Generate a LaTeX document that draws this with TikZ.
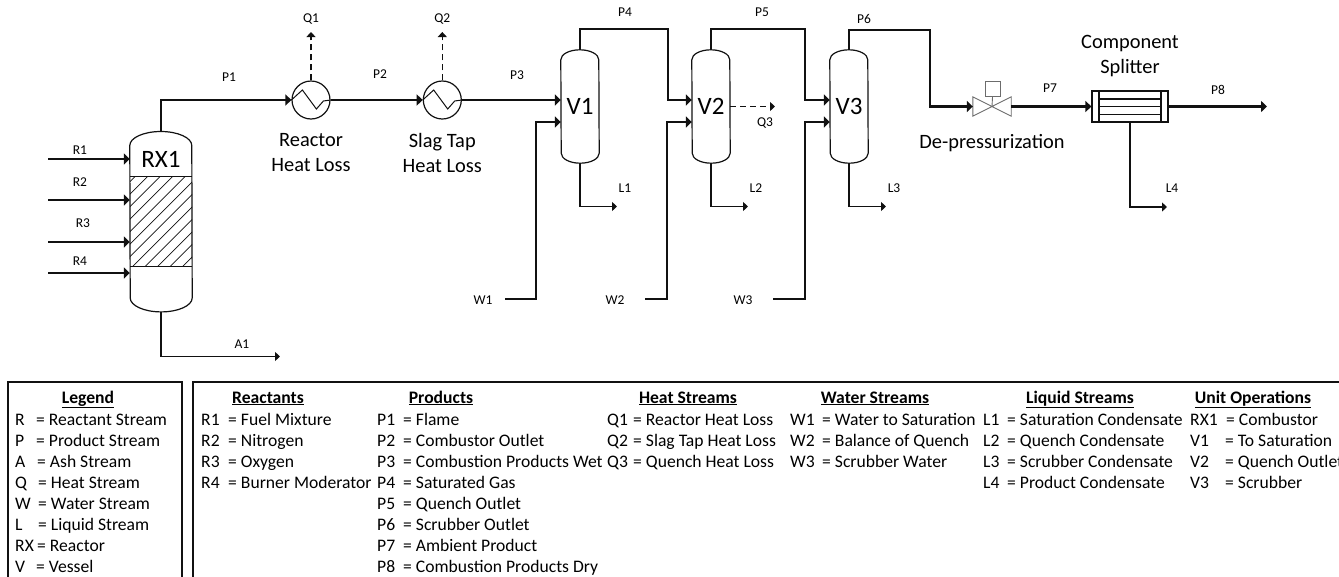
\documentclass[tikz,border=0pt]{standalone}
\usepackage{fontspec}
\setmainfont{Carlito}
\usetikzlibrary{arrows.meta,calc}
\definecolor{ink}{HTML}{111111}
\tikzset{
  thickline/.style={draw=ink,line width=2.5pt,-{Triangle[length=6pt,width=11pt]}},
  thinline/.style={draw=ink,line width=1.1pt,-{Triangle[length=5pt,width=9pt]}},
  dashline/.style={draw=ink,line width=1.1pt,dash pattern=on 6pt off 4pt,-{Triangle[length=5pt,width=9pt]}},
  outline/.style={draw=ink,line width=1.2pt},
  unitbox/.style={rectangle,inner sep=0pt,font=\fontsize{25}{25}\selectfont},
  hx/.style={circle,draw=ink,line width=1.2pt,minimum size=38pt,inner sep=0pt},
  lab/.style={inner sep=0pt,font=\fontsize{13.5}{14}\selectfont},
  biglab/.style={inner sep=0pt,align=center,font=\fontsize{20.4}{25}\selectfont},
  lt/.style={inner sep=0pt,anchor=base west,font=\fontsize{17.6}{18}\selectfont},
  lh/.style={inner sep=0pt,anchor=base,font=\fontsize{17.6}{18}\selectfont\bfseries},
  legbox/.style={draw=ink,line width=2.5pt},
  valveline/.style={draw=gray!85!black,line width=.9pt},
}
\newcounter{tn}
\newcommand{\lrow}[5]{\stepcounter{tn}\node[lt] (k\thetn) at (#1,#3) {#4};\node[lt] (v\thetn) at (#2,#3) {#5};}
\newcommand{\lhead}[2]{\stepcounter{tn}\node[lh] (h\thetn) at (#1,403) {\underline{#2}};}
\newcommand{\vesselpath}[2]{% node name, cap height
  \draw[outline] ($(#1.north west)+(0,#2)$) arc[x radius=0.5*\vw,y radius=#2,start angle=180,end angle=360]
    -- ($(#1.south east)+(0,-#2)$) arc[x radius=0.5*\vw,y radius=#2,start angle=0,end angle=180] -- cycle;}
\newcommand{\hxzig}[1]{\draw[outline,line width=1pt] (#1.west) -- ++(11,-10) -- ++(14,19) -- ++(7,-8) -- (#1.east);}
\begin{document}
\begin{tikzpicture}[x=1pt,y=-1pt]
\useasboundingbox (0,0) rectangle (1339,576);
\clip (0,0) rectangle (1339,576);

% Reactor
\node[unitbox,minimum width=62pt,minimum height=180pt] (RX1) at (161,221.7) {};
\node[inner sep=0pt,font=\fontsize{25}{25}\selectfont] (RX1t) at (161,159) {RX1};
\def\vw{62}
\vesselpath{RX1}{14}
\begin{scope}
  \clip (130,176.7) rectangle (192,266.7);
  \foreach \k in {0,...,12} \draw[draw=ink,line width=.7pt] (39.7+12.5*\k,272) -- ++(110,-110);
\end{scope}
\coordinate (bedTL) at (130,176.7); \coordinate (bedTR) at (192,176.7);
\coordinate (bedBL) at (130,266.7); \coordinate (bedBR) at (192,266.7);
\draw[outline] (bedTL) -- (bedTR) (bedBL) -- (bedBR);

% Feeds
\coordinate (R1s) at (48,159); \coordinate (R2s) at (48,200);
\coordinate (R3s) at (48,242); \coordinate (R4s) at (48,273);
\foreach \r in {R1s,R2s,R3s,R4s} \draw[thickline] (\r) -- (\r -| RX1.west);
\node[lab] (R1) at (80,150) {R1};
\node[lab] (R2) at (80,182) {R2};
\node[lab] (R3) at (83,223) {R3};
\node[lab] (R4) at (80,261) {R4};

% Ash
\coordinate (A1e) at (280,356.5);
\draw[thinline] (RX1.south) |- (A1e);
\node[lab] (A1) at (242,344) {A1};

% Heat exchangers
\node[hx] (HX1) at (311,100) {};
\node[hx] (HX2) at (442.3,100) {};
\hxzig{HX1}\hxzig{HX2}
\draw[thickline] (RX1.north) |- (HX1.west);
\draw[thickline] (HX1.east) -- (HX2.west);
\coordinate (Q1e) at (311,32); \coordinate (Q2e) at (442.3,32);
\draw[dashline] (HX1.north) -- (Q1e);
\draw[dashline] (HX2.north) -- (Q2e);
\node[lab] (Q1) at (311,19) {Q1};
\node[lab] (Q2) at (442.3,19) {Q2};
\node[lab] (P1) at (229,77) {P1};
\node[lab] (P2) at (380,74) {P2};
\node[lab] (P3) at (517,75) {P3};
\node[biglab] (HL1) at (311,153) {Reactor\\Heat Loss};
\node[biglab] (HL2) at (442.3,153) {Slag Tap\\Heat Loss};

% Vessels
\def\vw{38}
\node[unitbox,minimum width=38pt,minimum height=113pt] (V1) at (580,106.5) {V1};
\node[unitbox,minimum width=38pt,minimum height=113pt] (V2) at (711,106.5) {V2};
\node[unitbox,minimum width=38pt,minimum height=113pt] (V3) at (849,106.5) {V3};
\vesselpath{V1}{10}\vesselpath{V2}{10}\vesselpath{V3}{10}

\coordinate (V1a) at (V1.west |- 0,100); \coordinate (V1b) at (V1.west |- 0,122);
\coordinate (V2a) at (V2.west |- 0,100); \coordinate (V2b) at (V2.west |- 0,122);
\coordinate (V3a) at (V3.west |- 0,100); \coordinate (V3b) at (V3.west |- 0,122);
\draw[thickline] (HX2.east) -- (V1a);

% Overheads
\coordinate (P4k) at (668,29); \coordinate (P5k) at (805,29); \coordinate (P6k) at (930,30);
\draw[thickline] (V1.north) |- (P4k) |- (V2a);
\draw[thickline] (V2.north) |- (P5k) |- (V3a);

% Water feeds
\coordinate (W1s) at (505,299); \coordinate (W2s) at (645,299); \coordinate (W3s) at (773,299);
\coordinate (W1k) at (536,299); \coordinate (W2k) at (667,299); \coordinate (W3k) at (805,299);
\draw[thickline] (W1s) -- (W1k) |- (V1b);
\draw[thickline] (W2s) -- (W2k) |- (V2b);
\draw[thickline] (W3s) -- (W3k) |- (V3b);
\node[lab] (W1) at (483,300) {W1};
\node[lab] (W2) at (615,300) {W2};
\node[lab] (W3) at (743,300) {W3};

% Liquid draws
\coordinate (L1e) at (617,206.5); \coordinate (L2e) at (748,206.5); \coordinate (L3e) at (886,206.5);
\draw[thinline] (V1.south) |- (L1e);
\draw[thinline] (V2.south) |- (L2e);
\draw[thinline] (V3.south) |- (L3e);
\node[lab] (L1) at (625,188) {L1};
\node[lab] (L2) at (756,188) {L2};
\node[lab] (L3) at (894,188) {L3};

% Q3
\coordinate (Q3e) at (775,106.5);
\draw[dashline] (V2.east) -- (Q3e);
\node[lab] (Q3) at (765,123) {Q3};
\node[lab] (P4) at (625,12) {P4};
\node[lab] (P5) at (762,12) {P5};
\node[lab] (P6) at (864,19) {P6};

% Valve
\node[inner sep=0pt,minimum width=38pt,minimum height=19pt] (VLV) at (992,106.5) {};
\draw[valveline] (VLV.north west) -- (VLV.south east) -- (VLV.north east) -- (VLV.south west) -- cycle;
\node[draw=gray!85!black,line width=.9pt,inner sep=0pt,minimum width=15pt,minimum height=15.5pt] (ACT) at (992.5,89) {};
\draw[valveline] (ACT.south) -- (VLV.center);
\draw[thickline] (V3.north) |- (P6k) |- (VLV.west);
\node[biglab] (DP) at (992,143) {De-pressurization};

% Splitter
\node[draw=ink,line width=1.2pt,inner sep=0pt,minimum width=76pt,minimum height=31pt] (CS) at (1130,106.5) {};
\draw[outline] (1099,91) -- (1099,122) (1161,91) -- (1161,122)
  (1099,99) -- (1161,99) (1099,106.5) -- (1161,106.5) (1099,114.4) -- (1161,114.4);
\draw[thickline] (VLV.east) -- (CS.west);
\coordinate (P8e) at (1267,106.5); \coordinate (L4e) at (1167,207);
\draw[thickline] (CS.east) -- (P8e);
\draw[thinline] (CS.south) |- (L4e);
\node[lab] (P7) at (1050,88) {P7};
\node[lab] (P8) at (1218,90) {P8};
\node[lab] (L4) at (1172,188) {L4};
\node[biglab] (CST) at (1130,56) {Component\\Splitter};

% Legend boxes
\coordinate (b1a) at (8,382); \coordinate (b1b) at (182,600);
\coordinate (b2a) at (193,382); \coordinate (b2b) at (1360,600);
\draw[legbox] (b1a) rectangle (b1b);
\draw[legbox] (b2a) rectangle (b2b);

\lhead{88}{Legend}
\lrow{15}{36}{425}{R}{= Reactant Stream}
\lrow{15}{36}{446}{P}{= Product Stream}
\lrow{15}{37}{467}{A}{= Ash Stream}
\lrow{15}{38}{488}{Q}{= Heat Stream}
\lrow{15}{38}{509}{W}{= Water Stream}
\lrow{15}{38}{530}{L}{= Liquid Stream}
\lrow{15}{37}{551}{RX}{= Reactor}
\lrow{15}{36}{572}{V}{= Vessel}

\lhead{268}{Reactants}
\lrow{201}{228}{425}{R1}{= Fuel Mixture}
\lrow{201}{228}{446}{R2}{= Nitrogen}
\lrow{201}{228}{467}{R3}{= Oxygen}
\lrow{201}{228}{488}{R4}{= Burner Moderator}

\lhead{441}{Products}
\lrow{377}{403}{425}{P1}{= Flame}
\lrow{377}{403}{446}{P2}{= Combustor Outlet}
\lrow{377}{403}{467}{P3}{= Combustion Products Wet}
\lrow{377}{403}{488}{P4}{= Saturated Gas}
\lrow{377}{403}{509}{P5}{= Quench Outlet}
\lrow{377}{403}{530}{P6}{= Scrubber Outlet}
\lrow{377}{403}{551}{P7}{= Ambient Product}
\lrow{377}{403}{572}{P8}{= Combustion Products Dry}

\lhead{688}{Heat Streams}
\lrow{607}{633}{425}{Q1}{= Reactor Heat Loss}
\lrow{607}{633}{446}{Q2}{= Slag Tap Heat Loss}
\lrow{607}{633}{467}{Q3}{= Quench Heat Loss}

\lhead{875}{Water Streams}
\lrow{790}{822}{425}{W1}{= Water to Saturation}
\lrow{790}{822}{446}{W2}{= Balance of Quench}
\lrow{790}{822}{467}{W3}{= Scrubber Water}

\lhead{1080}{Liquid Streams}
\lrow{983}{1007}{425}{L1}{= Saturation Condensate}
\lrow{983}{1007}{446}{L2}{= Quench Condensate}
\lrow{983}{1007}{467}{L3}{= Scrubber Condensate}
\lrow{983}{1007}{488}{L4}{= Product Condensate}

\lhead{1253}{Unit Operations}
\lrow{1190}{1226}{425}{RX1}{= Combustor}
\lrow{1190}{1225}{446}{V1}{= To Saturation}
\lrow{1190}{1225}{467}{V2}{= Quench Outlet}
\lrow{1190}{1225}{488}{V3}{= Scrubber}
\end{tikzpicture}
\end{document}
